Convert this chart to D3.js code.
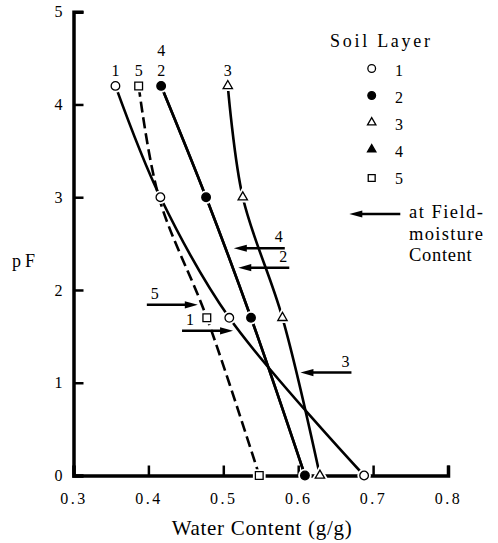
<!DOCTYPE html>
<html><head><meta charset="utf-8">
<script src="https://cdn.jsdelivr.net/npm/d3@7"></script>
<style>body{margin:0;background:#fff}</style>
</head><body>
<svg id="c" width="498" height="543"></svg>
<script>
// ---- data ----
const pFLevels = [4.2, 3.0, 1.7, 0];
const layer1 = [0.356, 0.416, 0.508, 0.688];
const layer2 = [0.417, 0.477, 0.537, 0.609];
const layer3 = [0.506, 0.526, 0.579, 0.629];
const layer4 = [0.417, 0.477, 0.537, 0.609]; // coincides with layer 2
const layer5 = [0.387, 0.414, 0.478, 0.548];
const layerNames = ["1", "2", "3", "4", "5"];
const fieldPF = [1.56, 2.24, 1.11, 2.45, 1.84];
const fieldWC = [0.513, 0.520, 0.603, 0.514, 0.466];
const xTicks = [0.3, 0.4, 0.5, 0.6, 0.7, 0.8];
const yTicks = [0, 1, 2, 3, 4, 5];

const layers = [layer1, layer2, layer3, layer4, layer5];
const symTypes = [d3.symbolCircle, d3.symbolCircle, d3.symbolTriangle, d3.symbolTriangle, d3.symbolSquare];
const symFill = ["#fff", "#000", "#fff", "#000", "#fff"];
const symSize = [58, 58, 38, 38, 60];
const dashed = [false, false, false, false, true];
const drawMarkers = [[1,1,1,1],[1,1,1,1],[1,1,1,1],[0,0,0,0],[1,0,1,1]];
const pointsRight = [true, false, false, false, true];

const FONT = "'Liberation Serif', 'Times New Roman', serif";
const svg = d3.select("#c");
const x = d3.scaleLinear().domain([0.3, 0.8]).range([73.5, 448]);
const y = d3.scaleLinear().domain([0, 5]).range([475.5, 11.7]);

// axes
const gx = svg.append("g").attr("transform", `translate(0,${y(0)})`)
  .call(d3.axisBottom(x).tickValues(xTicks).tickSizeInner(-10).tickSizeOuter(-10)
        .tickPadding(17).tickFormat(d3.format(".1f")));
const gy = svg.append("g").attr("transform", `translate(${x(0.3)},0)`)
  .call(d3.axisLeft(y).tickValues(yTicks).tickSizeInner(-10).tickSizeOuter(-10)
        .tickPadding(11).tickFormat(d3.format("d")));
[gx, gy].forEach(g => {
  g.select(".domain").attr("stroke", "#000").attr("stroke-width", 3.5).attr("fill", "none");
  g.selectAll(".tick line").attr("stroke", "#000").attr("stroke-width", 2.5);
  g.selectAll("text").attr("font-family", FONT).attr("font-size", 16).attr("fill", "#000");
});
gx.selectAll("text").attr("letter-spacing", 2.5);

// curves
const line = d3.line().x(d => x(d.w)).y(d => y(d.p)).curve(d3.curveCatmullRom.alpha(0.5));
layers.forEach((vals, i) => {
  const pts = vals.map((w, j) => ({w, p: pFLevels[j]}));
  svg.append("path").datum(pts).attr("d", line)
    .attr("fill", "none").attr("stroke", "#000").attr("stroke-width", 2.6)
    .attr("stroke-dasharray", dashed[i] ? "11,5" : null);
});

// markers
layers.forEach((vals, i) => {
  const pts = vals.map((w, j) => ({w, p: pFLevels[j], show: drawMarkers[i][j]})).filter(d => d.show);
  const sym = d3.symbol().type(symTypes[i]).size(symSize[i]);
  svg.selectAll(null).data(pts).enter().append("path")
    .attr("transform", d => `translate(${x(d.w)},${y(d.p)})`).attr("d", sym)
    .attr("fill", "#fff").attr("stroke", "#fff").attr("stroke-width", 5);
  svg.selectAll(null).data(pts).enter().append("path")
    .attr("transform", d => `translate(${x(d.w)},${y(d.p)})`).attr("d", sym)
    .attr("fill", symFill[i]).attr("stroke", "#000").attr("stroke-width", 1.3);
});

// curve labels at the top
layers.forEach((vals, i) => {
  const lift = i === 3 ? 30 : 10;
  svg.append("text").attr("x", x(vals[0])).attr("y", y(pFLevels[0]) - lift)
    .attr("text-anchor", "middle").attr("font-family", FONT).attr("font-size", 16)
    .text(layerNames[i]);
});

// field-moisture arrows
function arrow(tipX, yy, right) {
  const dir = right ? 1 : -1;
  const tail = tipX - dir * 51;
  svg.append("line").attr("x1", tail).attr("x2", tipX - dir * 9).attr("y1", yy).attr("y2", yy)
    .attr("stroke", "#000").attr("stroke-width", 2.6);
  svg.append("path").attr("d", `M${tipX},${yy}L${tipX - dir * 13},${yy - 3.6}L${tipX - dir * 13},${yy + 3.6}Z`)
    .attr("fill", "#000");
  return tail;
}
layerNames.forEach((name, i) => {
  const tx = x(fieldWC[i]), ty = y(fieldPF[i]);
  const tail = arrow(tx, ty, pointsRight[i]);
  svg.append("text")
    .attr("x", pointsRight[i] ? tail + 4 : tail - 2).attr("y", ty - 6)
    .attr("text-anchor", pointsRight[i] ? "start" : "end")
    .attr("font-family", FONT).attr("font-size", 16).text(name);
});

// legend
svg.append("text").attr("x", 330).attr("y", 46.7).attr("font-family", FONT).attr("font-size", 18)
  .attr("textLength", 100).attr("lengthAdjust", "spacing").text("Soil Layer");
layerNames.forEach((name, i) => {
  const by = 76 + i * 27;
  const sym = d3.symbol().type(symTypes[i]).size(symSize[i] * 0.8);
  svg.append("path").attr("transform", `translate(371.7,${by - (i === 4 ? 6 : 7.5)})`).attr("d", sym)
    .attr("fill", symFill[i]).attr("stroke", "#000").attr("stroke-width", 1.3);
  svg.append("text").attr("x", 395).attr("y", by).attr("font-family", FONT).attr("font-size", 16).text(name);
});
arrow(349.3, 214, false);
[["at Field-", 218.3, 74], ["moisture", 240, 74], ["Content", 260.7, 62.7]].forEach(([t, by, w]) => {
  svg.append("text").attr("x", 409).attr("y", by).attr("font-family", FONT).attr("font-size", 18.5)
    .attr("textLength", w).attr("lengthAdjust", "spacing").text(t);
});

// axis titles
svg.append("text").attr("x", 12).attr("y", 267).attr("font-family", FONT).attr("font-size", 18)
  .attr("textLength", 23).attr("lengthAdjust", "spacing").text("pF");
svg.append("text").attr("x", 171.7).attr("y", 535).attr("font-family", FONT).attr("font-size", 21)
  .attr("textLength", 180).attr("lengthAdjust", "spacing").text("Water Content (g/g)");
</script>
</body></html>
